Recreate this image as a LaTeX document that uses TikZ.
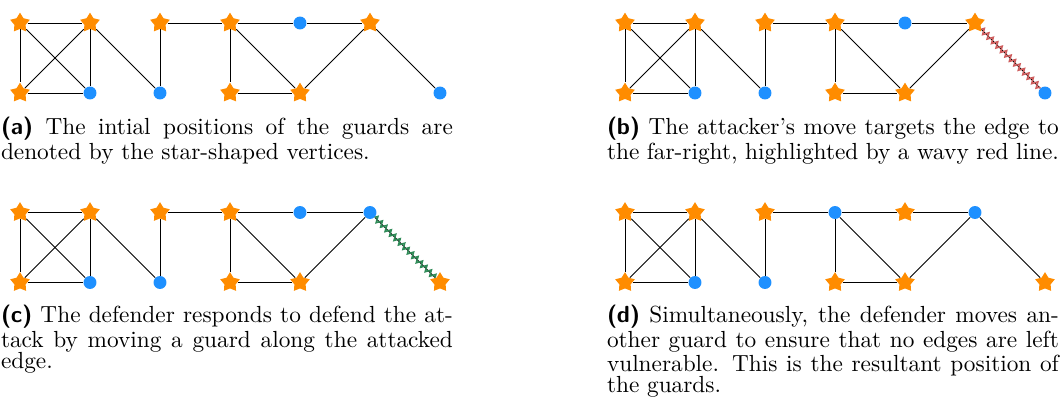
\documentclass[tikz,border=0pt]{standalone}
\usetikzlibrary{shapes.geometric,decorations.pathmorphing}
\definecolor{guardorange}{RGB}{255,140,0}
\definecolor{vblue}{RGB}{30,144,255}
\definecolor{attackred}{RGB}{205,92,92}
\definecolor{defgreen}{RGB}{46,139,87}
\newlength\capw
\setlength\capw{194pt}
\tikzset{
  guard/.style={star, star points=5, star point ratio=1.75, fill=guardorange, draw=none, minimum size=11.8pt, inner sep=0pt},
  vtx/.style={circle, fill=vblue, draw=none, minimum size=7.4pt, inner sep=0pt},
  edgeline/.style={line width=0.45pt, draw=black},
  attackline/.style={decorate, decoration={zigzag, segment length=3.6pt, amplitude=1.6pt}, line width=0.9pt, draw=attackred},
  defendline/.style={decorate, decoration={zigzag, segment length=3.6pt, amplitude=1.6pt}, line width=0.9pt, draw=defgreen},
  captionnode/.style={anchor=base west, inner sep=0pt, outer sep=0pt, scale=1.33, transform shape},
}
\newcommand\drawpanel[7]{%
  \begin{scope}[shift={(#2,#3)}]
    \node[guard] (#1t1) at (20,23) {};
    \node[guard] (#1t2) at (90,23) {};
    \node[guard] (#1t3) at (160,23) {};
    \node[#4] (#1t4) at (230,23) {};
    \node[#5] (#1t5) at (300,23) {};
    \node[#6] (#1t6) at (370,23) {};
    \node[guard] (#1b1) at (20,93) {};
    \node[vtx] (#1b2) at (90,93) {};
    \node[vtx] (#1b3) at (160,93) {};
    \node[guard] (#1b4) at (230,93) {};
    \node[guard] (#1b5) at (300,93) {};
    \node[#7] (#1b7) at (440,93) {};
  \end{scope}
  \draw[edgeline] (#1t1) -- (#1t2);
  \draw[edgeline] (#1t1) -- (#1b1);
  \draw[edgeline] (#1t1) -- (#1b2);
  \draw[edgeline] (#1t2) -- (#1b1);
  \draw[edgeline] (#1t2) -- (#1b2);
  \draw[edgeline] (#1b1) -- (#1b2);
  \draw[edgeline] (#1t2) -- (#1b3);
  \draw[edgeline] (#1t3) -- (#1b3);
  \draw[edgeline] (#1t3) -- (#1t4);
  \draw[edgeline] (#1t4) -- (#1t5);
  \draw[edgeline] (#1t5) -- (#1t6);
  \draw[edgeline] (#1t4) -- (#1b4);
  \draw[edgeline] (#1t4) -- (#1b5);
  \draw[edgeline] (#1b4) -- (#1b5);
  \draw[edgeline] (#1b5) -- (#1t6);
  \draw[edgeline] (#1t6) -- (#1b7);
}
\newcommand\lab[1]{{\sffamily\bfseries #1}}
\newcommand\fl[1]{\makebox[\capw][s]{#1}\\}
\newcommand\capbox[1]{\parbox[t]{\capw}{\fontsize{10pt}{9.02pt}\selectfont #1}}
\begin{document}
\begin{tikzpicture}[x=0.571pt, y=-0.571pt]
  \useasboundingbox (0,0) rectangle (1062,403);
  \drawpanel{a}{0}{0}{guard}{vtx}{guard}{vtx}
  \drawpanel{b}{605}{0}{guard}{vtx}{guard}{vtx}
  \drawpanel{c}{0}{189.5}{guard}{vtx}{vtx}{guard}
  \drawpanel{d}{605}{189.5}{vtx}{guard}{vtx}{guard}
  \draw[attackline] (bt6) -- (bb7);
  \draw[defendline] (ct6) -- (cb7);
  \node[captionnode] (capa) at (1,135) {\capbox{\fl{\lab{(a)} The intial positions of the guards are}denoted by the star-shaped vertices.}};
  \node[captionnode] (capb) at (607,135) {\capbox{\fl{\lab{(b)} The attacker's move targets the edge to}\makebox[\capw][s]{the far-right, highlighted by a wavy red line.}}};
  \node[captionnode] (capc) at (1,323) {\capbox{\fl{\lab{(c)} The defender responds to defend the at-}\fl{tack by moving a guard along the attacked}edge.}};
  \node[captionnode] (capd) at (607,323) {\capbox{\fl{\lab{(d)} Simultaneously, the defender moves an-}\fl{other guard to ensure that no edges are left}\fl{vulnerable. This is the resultant position of}the guards.}};
\end{tikzpicture}
\end{document}
